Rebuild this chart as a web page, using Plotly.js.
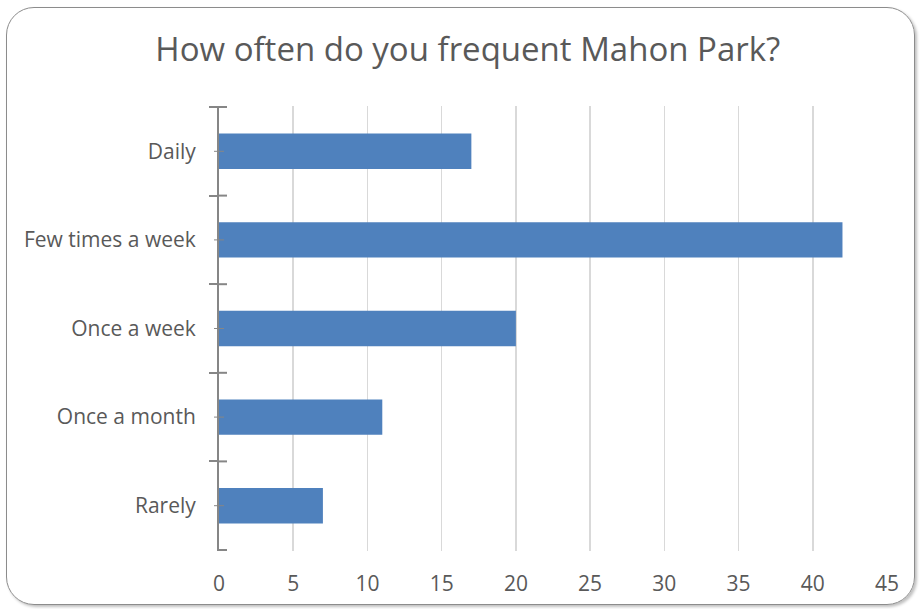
<!DOCTYPE html>
<html>
<head>
<meta charset="utf-8">
<script src="https://cdn.plot.ly/plotly-3.0.1.min.js"></script>
<style>
  html, body { margin: 0; padding: 0; background: #fff; }
  #wrap { position: relative; width: 921px; height: 609px; overflow: hidden; }
  #chart { position: absolute; left: 0; top: 0; width: 921px; height: 609px; }
  #frame { position: absolute; left: 6px; top: 7px; width: 907px; height: 596px;
           border: 1px solid #8c8c8c; border-radius: 28px; pointer-events: none;
           box-shadow: 2px 2px 3px rgba(0,0,0,0.25); }
</style>
</head>
<body>
<div id="wrap">
  <div id="chart"></div>
  <div id="frame"></div>
</div>
<script>
const categories = ["Daily", "Few times a week", "Once a week", "Once a month", "Rarely"];
const counts = [17, 42, 20, 11, 7];
const xTickValues = [0, 5, 10, 15, 20, 25, 30, 35, 40, 45];
const chartTitle = "How often do you frequent Mahon Park?";

const plotW = 921 - 219 - 34;
const shapes = [];
for (let i = 0; i <= categories.length; i++) {
  shapes.push({ type: 'line', xref: 'paper', yref: 'y', x0: 0, x1: 8 / plotW,
    y0: i - 0.5, y1: i - 0.5, line: { color: '#868686', width: 2 } });
}
for (let i = 0; i < categories.length; i++) {
  shapes.push({ type: 'line', xref: 'paper', yref: 'y', x0: -5 / plotW, x1: 5 / plotW,
    y0: i, y1: i, line: { color: '#868686', width: 1 } });
}

const trace = {
  type: 'bar', orientation: 'h',
  x: counts, y: categories,
  marker: { color: '#4F81BD' },
  hoverinfo: 'x+y'
};

const layout = {
  width: 921, height: 609,
  margin: { l: 219, r: 34, t: 106, b: 58 },
  paper_bgcolor: 'rgba(0,0,0,0)', plot_bgcolor: 'rgba(0,0,0,0)',
  font: { family: '"Open Sans", "Noto Sans", sans-serif', color: '#595959' },
  title: { text: chartTitle, x: 0.508, xanchor: 'center', y: 0.918, yanchor: 'middle',
           font: { size: 33, color: '#595959' } },
  showlegend: false,
  bargap: 0.6,
  xaxis: {
    range: [0, 45], tickvals: xTickValues, ticktext: xTickValues.map(String),
    showgrid: true, gridcolor: '#d9d9d9', gridwidth: 1.5,
    zeroline: false, showline: false, ticks: '',
    ticklabelstandoff: 18,
    tickfont: { size: 21, color: '#595959' }
  },
  yaxis: {
    type: 'category', categoryorder: 'array', categoryarray: categories,
    autorange: 'reversed',
    showline: true, linecolor: '#868686', linewidth: 2,
    ticks: 'outside', tickson: 'boundaries', ticklen: 8, tickwidth: 2, tickcolor: '#868686',
    showgrid: false, zeroline: false,
    ticklabelstandoff: 17,
    tickfont: { size: 21, color: '#595959' }
  },
  shapes: shapes
};

Plotly.newPlot('chart', [trace], layout, { displayModeBar: false, staticPlot: true });
</script>
</body>
</html>
